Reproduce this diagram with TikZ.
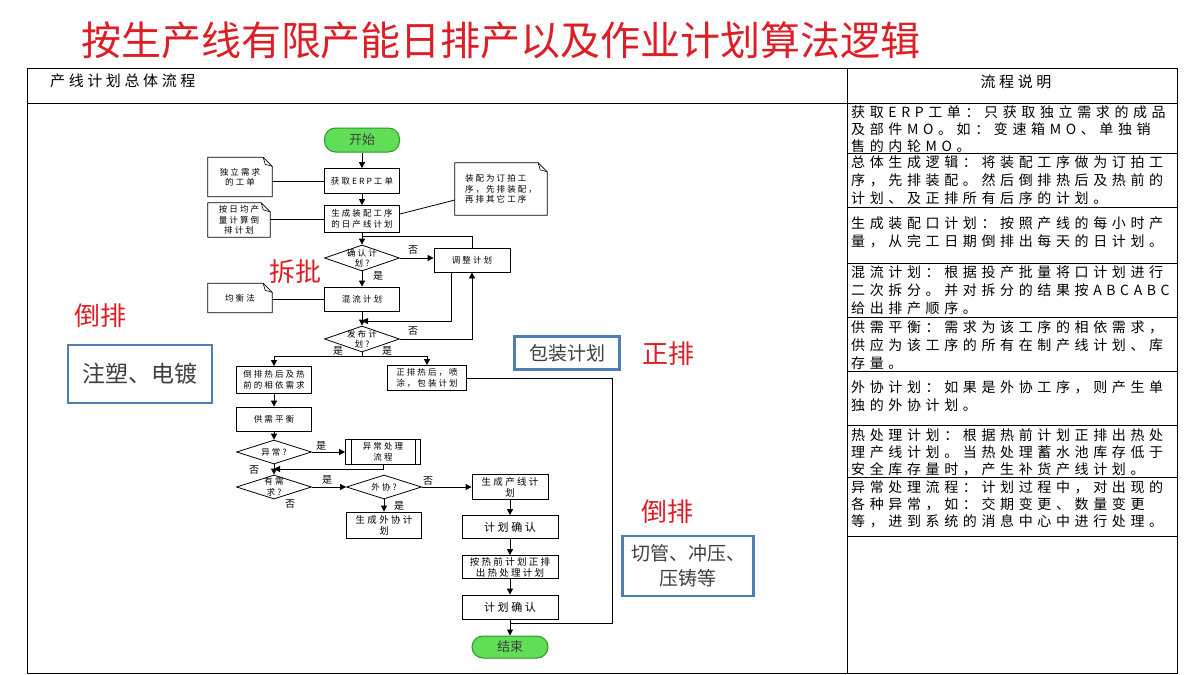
\documentclass[tikz,border=0pt]{standalone}
\usepackage{fontspec}
\setmainfont{Noto Sans CJK SC}
\newfontfamily\spfont[LetterSpace=24]{Noto Sans CJK SC}
\newfontfamily\rfont[LetterSpace=33]{Noto Sans CJK SC}
\usetikzlibrary{arrows.meta,shapes.geometric,calc}
\definecolor{titlered}{RGB}{222,30,38}
\definecolor{boxblue}{RGB}{80,125,180}
\definecolor{termfill}{RGB}{96,222,86}
\definecolor{termdraw}{RGB}{40,150,40}
\definecolor{greytext}{RGB}{64,64,64}
\newcommand{\docshape}[1]{%
  \draw[line width=0.8pt] (#1.north west) -- ([xshift=-9pt]#1.north east) -- ([yshift=-9pt]#1.north east) -- (#1.south east) -- (#1.south west) -- cycle;
  \draw[line width=0.6pt] ([xshift=-9pt]#1.north east) -- ([xshift=-7pt,yshift=-7pt]#1.north east) -- ([yshift=-9pt]#1.north east);}
\newcommand{\ppshape}[1]{%
  \draw[line width=0.8pt] ([xshift=6pt]#1.north west) -- ([xshift=6pt]#1.south west) ([xshift=-6pt]#1.north east) -- ([xshift=-6pt]#1.south east);}
\begin{document}
\begin{tikzpicture}[x=1pt,y=-1pt,
  ln/.style={line width=0.8pt},
  arr/.style={line width=0.8pt,-{Triangle[length=6pt,width=6pt]}},
  fc/.style={font=\spfont\fontsize{8.5}{10.5}\selectfont},
  fcb/.style={font=\spfont\fontsize{9.5}{11}\selectfont},
  box/.style={draw,line width=0.8pt,minimum width=75pt,minimum height=25pt,inner sep=0.5pt,align=center,fc},
  dia/.style={draw,line width=0.8pt,diamond,minimum width=75pt,minimum height=26pt,inner sep=0pt},
  dtext/.style={align=center,fc,inner sep=0pt},
  term/.style={draw=termdraw,line width=1pt,fill=termfill,rounded corners=11pt,minimum width=75pt,minimum height=24pt,inner sep=0pt,font=\fontsize{13}{13}\selectfont,text=greytext},
  doc/.style={minimum width=64pt,minimum height=36pt,inner sep=1pt,align=center,fc},
  yn/.style={font=\fontsize{10}{10}\selectfont,inner sep=0pt},
  redlab/.style={text=titlered,font=\fontsize{26}{26}\selectfont,inner sep=0pt},
  bluebox/.style={draw=boxblue,line width=2.6pt,fill=white,text=greytext,align=center,inner sep=0pt},
  rtxt/.style={anchor=north west,align=left,inner sep=0pt,font=\rfont\fontsize{14}{18}\selectfont},
  rtxs/.style={rtxt,font=\rfont\fontsize{14}{17}\selectfont},
  tframe/.style={line width=1pt}
]
\fill[white] (0,0) rectangle (1200,675);
\useasboundingbox (0,0) rectangle (1200,675);

% title
\node[text=titlered,font=\fontsize{40}{40}\selectfont,inner sep=0pt] (title) at (501,40) {按生产线有限产能日排产以及作业计划算法逻辑};

% frame / table
\draw[tframe] (27,68) rectangle (1177,673);
\draw[tframe] (847,68) -- (847,673);
\draw[tframe] (27,103) -- (1177,103);
\foreach \yy in {153,207,263,317,371,425,477,536} \draw[tframe] (847,\yy) -- (1177,\yy);

\node[font=\spfont\fontsize{15}{15}\selectfont,anchor=west,inner sep=0pt] (lh) at (50,81) {产线计划总体流程};
\node[font=\spfont\fontsize{15}{15}\selectfont,inner sep=0pt] (rh) at (1016,82) {流程说明};

\node[rtxs] (r1) at (851,105) {获取ERP工单：只获取独立需求的成品\\及部件MO。如：变速箱MO、单独销\\售的内轮MO。};
\node[rtxt] (r2) at (851,155) {总体生成逻辑：将装配工序做为订拍工\\序，先排装配。然后倒排热后及热前的\\计划、及正排所有后序的计划。};
\node[rtxt] (r3) at (851,216) {生成装配口计划：按照产线的每小时产\\量，从完工日期倒排出每天的日计划。};
\node[rtxt] (r4) at (851,266) {混流计划：根据投产批量将口计划进行\\二次拆分。并对拆分的结果按ABCABC\\给出排产顺序。};
\node[rtxt] (r5) at (851,320) {供需平衡：需求为该工序的相依需求，\\供应为该工序的所有在制产线计划、库\\存量。};
\node[rtxt] (r6) at (851,380) {外协计划：如果是外协工序，则产生单\\独的外协计划。};
\node[rtxs] (r7) at (851,428) {热处理计划：根据热前计划正排出热处\\理产线计划。当热处理蓄水池库存低于\\安全库存量时，产生补货产线计划。};
\node[rtxs] (r8) at (851,480) {异常处理流程：计划过程中，对出现的\\各种异常，如：交期变更、数量变更\\等，进到系统的消息中心中进行处理。};

% flowchart nodes
\node[term] (start) at (362,140) {开始};
\node[box] (erp) at (362,181) {获取ERP工单};
\node[box,minimum height=27pt] (gen) at (362,219) {生成装配工序\\的日产线计划};
\node[dia,label={[dtext]center:确认计\\划?}] (conf) at (362,258) {};
\node[box,minimum width=76pt,minimum height=24pt] (adj) at (472,260) {调整计划};
\node[box,minimum height=24pt] (mix) at (362,299) {混流计划};
\node[dia,label={[dtext]center:发布计\\划?}] (pub) at (362,339) {};
\node[box,minimum height=27pt] (rev) at (274,380) {倒排热后及热\\前的相依需求};
\node[box,minimum width=79pt] (fwd) at (427,378) {正排热后，喷\\涂，包装计划};
\node[box,minimum height=24pt] (sd) at (274,419) {供需平衡};
\node[dia,minimum height=24pt,label={[dtext]center:异常?}] (exc) at (274,452) {};
\node[box] (exh) at (383,452) {异常处理\\流程};
\node[dia,minimum height=24pt,label={[dtext]center:有需\\求?}] (dem) at (274,487) {};
\node[dia,minimum height=24pt,label={[dtext]center:外协?}] (out) at (384,487) {};
\node[box,minimum height=26pt,fcb] (gop) at (384,525) {生成外协计\\划};
\node[box,minimum width=76pt,fcb] (gp) at (510,487) {生成产线计\\划};
\node[box,minimum width=96pt,minimum height=23pt,font=\spfont\fontsize{11}{11}\selectfont] (c1) at (510,527) {计划确认};
\node[box,minimum width=96pt,minimum height=23pt,fcb] (ht) at (510,567) {按热前计划正排\\出热处理计划};
\node[box,minimum width=96pt,minimum height=24pt,font=\spfont\fontsize{11}{11}\selectfont] (c2) at (510,607) {计划确认};
\node[term,minimum width=76pt,minimum height=22pt] (end) at (510,647) {结束};
\ppshape{exh}

% documents
\node[doc,minimum width=64pt,minimum height=39pt] (d1) at (240,177) {独立需求\\的工单};
\node[doc,minimum width=62pt,minimum height=34pt] (d2) at (239,220) {按日均产\\量计算倒\\排计划};
\node[doc,minimum width=92pt,minimum height=52pt,align=left] (d3) at (501,189) {装配为订拍工\\序，先排装配，\\再排其它工序};
\node[doc,minimum width=64pt,minimum height=29pt] (d4) at (240,298) {均衡法};
\docshape{d1}\docshape{d2}\docshape{d3}\docshape{d4}

% yes / no labels
\node[yn] (n1) at (413,250) {否};
\node[yn] (y1) at (378,276) {是};
\node[yn] (n2) at (413,331) {否};
\node[yn] (y2) at (338,351) {是};
\node[yn] (y3) at (387,351) {是};
\node[yn] (y4) at (321,446) {是};
\node[yn] (n3) at (254,470) {否};
\node[yn] (y5) at (327,480) {是};
\node[yn] (n4) at (290,504) {否};
\node[yn] (n5) at (428,481) {否};
\node[yn] (y6) at (399,506) {是};

% connectors
\coordinate (j1) at (362,236);
\coordinate (j2) at (362,321);
\coordinate (j3) at (362,356);
\coordinate (j4) at (274,469);
\coordinate (j5) at (510,623);
\coordinate (rc) at (612,623);

\draw[arr] (start) -- (erp);
\draw[arr] (erp) -- (gen);
\draw[arr] (gen) -- (conf);
\draw[ln] (adj.north) |- (j1);
\draw[arr] (conf.east) -- (conf.east -| adj.west);
\draw[arr] (conf) -- (mix);
\draw[ln] (d1.east |- erp) -- (erp.west);
\draw[ln] (d2.east |- gen) -- (gen.west);
\draw[ln] ([yshift=5pt]gen.east) -- ([yshift=-11pt]d3.west);
\draw[ln] (d4.east |- mix) -- (mix.west);
\draw[arr] (mix) -- (pub);
\draw[arr] ([xshift=-20.5pt]adj.south) |- (j2);
\draw[arr] (pub.east) -| (adj.south);
\draw[ln] (pub.south) -- (j3);
\draw[arr] (j3) -| (rev.north);
\draw[arr] (j3) -| (fwd.north);
\draw[arr] (rev) -- (sd);
\draw[arr] (sd) -- (exc);
\draw[arr] (exc) -- (exh);
\draw[arr] (exh.south) |- (j4);
\draw[arr] (exc) -- (dem);
\draw[arr] (dem) -- (out);
\draw[arr] (out) -- (gop);
\draw[arr] (out) -- (gp);
\draw[arr] (gp) -- (c1);
\draw[arr] (c1) -- (ht);
\draw[arr] (ht) -- (c2);
\draw[arr] (c2) -- (end);
\draw[ln] (fwd.east) -| (rc) -- (j5);

% annotations
\node[redlab] (l1) at (295,272) {拆批};
\node[redlab] (l2) at (100,316) {倒排};
\node[redlab] (l3) at (668,354) {正排};
\node[redlab] (l4) at (667,512) {倒排};
\node[bluebox,minimum width=144pt,minimum height=58pt,font=\fontsize{23}{23}\selectfont] (bx1) at (140,374) {注塑、电镀};
\node[bluebox,minimum width=105pt,minimum height=33pt,font=\fontsize{19}{19}\selectfont] (bx2) at (567,353) {包装计划};
\node[bluebox,minimum width=131pt,minimum height=60pt,font=\fontsize{19}{25}\selectfont] (bx3) at (688,566) {切管、冲压、\\压铸等};
\end{tikzpicture}
\end{document}
